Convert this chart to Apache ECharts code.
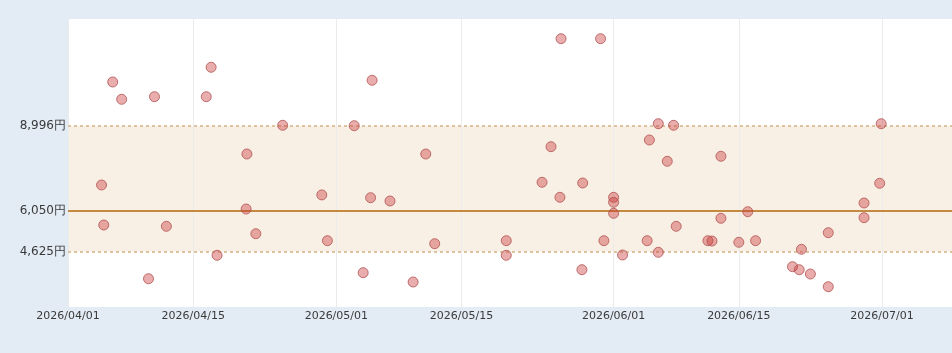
<!DOCTYPE html>
<html>
<head>
<meta charset="utf-8">
<script src="https://cdn.jsdelivr.net/npm/echarts@6/dist/echarts.min.js"></script>
<style>
  html, body { margin: 0; padding: 0; background: #e3ebf5; }
  #chart { width: 952px; height: 353px; }
</style>
</head>
<body>
<div id="chart"></div>
<script>
// 価格の散布データ
const dates = [
  '2026-04-04 18:00', '2026-04-05', '2026-04-06', '2026-04-07', '2026-04-10',
  '2026-04-10 16:00', '2026-04-12', '2026-04-16 11:00', '2026-04-17', '2026-04-17 16:00',
  '2026-04-21', '2026-04-20 22:00', '2026-04-22', '2026-04-25', '2026-04-29 09:00',
  '2026-04-30', '2026-05-03', '2026-05-04', '2026-05-04 20:00', '2026-05-05',
  '2026-05-07', '2026-05-09 14:00', '2026-05-11', '2026-05-12', '2026-05-20',
  '2026-05-20', '2026-05-24', '2026-05-25', '2026-05-26 03:00', '2026-05-26',
  '2026-05-28 11:00', '2026-05-28 13:00', '2026-05-30 13:00', '2026-05-30 22:00', '2026-06-01',
  '2026-06-01', '2026-06-01', '2026-06-02', '2026-06-04 18:00', '2026-06-05',
  '2026-06-06', '2026-06-06', '2026-06-07', '2026-06-07 17:00', '2026-06-08',
  '2026-06-11 13:00', '2026-06-12', '2026-06-13', '2026-06-13', '2026-06-15',
  '2026-06-16', '2026-06-16 21:00', '2026-06-21', '2026-06-21 18:00', '2026-06-22',
  '2026-06-23', '2026-06-25', '2026-06-25', '2026-06-29', '2026-06-29',
  '2026-06-30 18:00', '2026-06-30 22:00'
]
const prices = [
  6939, 5551, 10512, 9912, 3688,
  10002, 5506, 10002, 11022, 4500,
  8014, 6106, 5249, 9010, 6595,
  5007, 8996, 3897, 6498, 10571,
  6384, 3574, 8014, 4903, 5007,
  4500, 7033, 8268, 12014, 6512,
  4001, 7008, 12014, 5007, 6512,
  6339, 5957, 4511, 5007, 8500,
  9065, 4604, 7761, 9010, 5506,
  5007, 4996, 7934, 5784, 4951,
  6013, 5007, 4105, 4001, 4708,
  3851, 5284, 3411, 6314, 5805,
  6998, 9065
]

// 目盛り
const xTicks = ['2026-04-01', '2026-04-15', '2026-05-01', '2026-05-15', '2026-06-01', '2026-06-15', '2026-07-01']
const bandLow = 4625
const bandMid = 6050
const bandHigh = 8996
const yTicks = [bandLow, bandMid, bandHigh]

const xMin = '2026-04-01'
const xMax = '2026-07-08 20:00'
const yMin = 2707
const yMax = 12697

const ts = s => echarts.time.parse(s).getTime()

function fmtDate(v) {
  const d = new Date(v)
  const p = n => (n < 10 ? '0' : '') + n
  return d.getFullYear() + '/' + p(d.getMonth() + 1) + '/' + p(d.getDate())
}

const chart = echarts.init(document.getElementById('chart'))
const tickTimes = xTicks.map(ts)

chart.setOption({
  animation: false,
  backgroundColor: '#e3ebf5',
  grid: {
    left: 68, right: 0, top: 19, bottom: 46,
    show: true, backgroundColor: '#ffffff', borderWidth: 0
  },
  xAxis: {
    type: 'value',
    min: ts(xMin),
    max: ts(xMax),
    axisLine: { show: false },
    axisTick: { show: false },
    axisLabel: {
      customValues: tickTimes,
      formatter: v => fmtDate(v),
      color: '#3a3a3a',
      fontFamily: 'DejaVu Sans',
      fontSize: 11,
      margin: 4,
      showMinLabel: true,
      showMaxLabel: true
    },
    splitLine: { show: false }
  },
  yAxis: {
    type: 'value',
    min: yMin,
    max: yMax,
    axisLine: { show: false },
    axisTick: { show: false },
    axisLabel: {
      customValues: yTicks,
      formatter: v => v.toLocaleString('en-US') + '円',
      color: '#3a3a3a',
      fontFamily: 'DejaVu Sans',
      fontSize: 12,
      margin: 2
    },
    splitLine: { show: false }
  },
  series: [
    {
      // 縦のグリッド線
      type: 'scatter',
      data: [],
      silent: true,
      markLine: {
        symbol: 'none',
        label: { show: false },
        lineStyle: { color: '#ebebeb', width: 1, type: 'solid' },
        data: tickTimes.map(t => ({ xAxis: t }))
      }
    },
    {
      type: 'scatter',
      data: dates.map((d, i) => [ts(d), prices[i]]),
      symbolSize: 10,
      itemStyle: {
        color: 'rgba(200, 50, 50, 0.5)',
        borderColor: '#b05252',
        borderWidth: 1
      },
      z: 5,
      markArea: {
        silent: true,
        itemStyle: { color: 'rgba(222, 170, 110, 0.18)' },
        data: [[{ yAxis: bandLow }, { yAxis: bandHigh }]]
      },
      markLine: {
        silent: true,
        symbol: 'none',
        label: { show: false },
        data: [
          { yAxis: bandHigh, lineStyle: { color: '#d4b285', width: 1.5, type: [3, 3] } },
          { yAxis: bandLow, lineStyle: { color: '#d4b285', width: 1.5, type: [3, 3] } },
          { yAxis: bandMid, lineStyle: { color: '#c48a40', width: 2, type: 'solid' } }
        ]
      }
    }
  ]
})
</script>
</body>
</html>
